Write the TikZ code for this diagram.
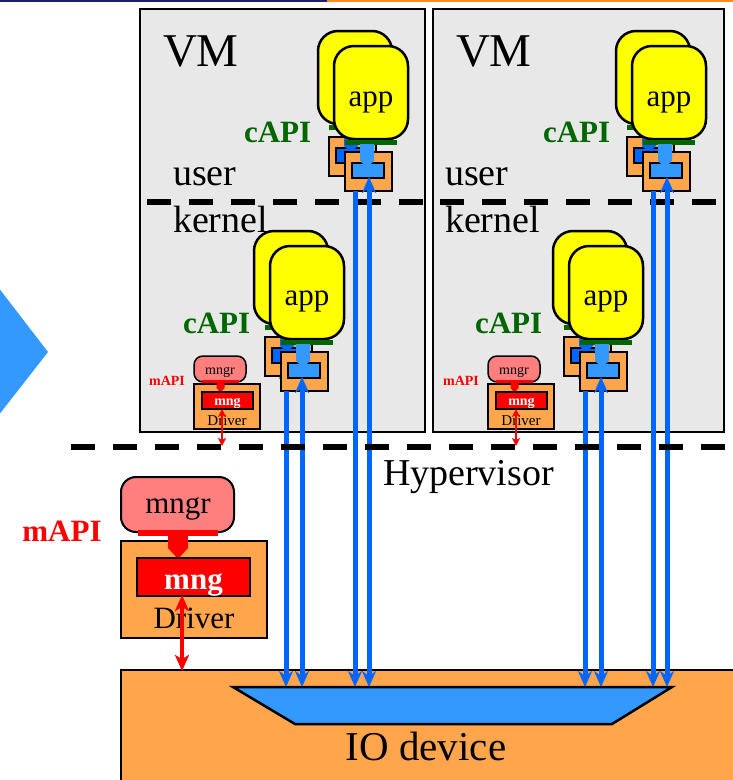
\documentclass[tikz,border=0pt]{standalone}
\usepackage{fontspec}
\setmainfont{Liberation Serif}
\usetikzlibrary{arrows.meta}
\definecolor{vmgray}{HTML}{E8E8E8}
\definecolor{appyellow}{HTML}{FFFF00}
\definecolor{boxorange}{HTML}{FFA64D}
\definecolor{lblue}{HTML}{3399FF}
\definecolor{dblue}{HTML}{0066FF}
\definecolor{capigreen}{HTML}{006600}
\definecolor{mpink}{HTML}{FF7F7F}
\definecolor{topnavy}{HTML}{1F1F6F}
\definecolor{toporange}{HTML}{FF8C1A}
\tikzset{
  plainbox/.style={rectangle,inner sep=0pt,outer sep=0pt,anchor=north west},
  vmbox/.style={plainbox,draw=black,line width=2pt,fill=vmgray},
  appbox/.style={plainbox,draw=black,line width=2.5pt,fill=appyellow,rounded corners=20pt,minimum width=74pt,minimum height=93pt},
  orbox/.style={plainbox,draw=black,line width=2.5pt,fill=boxorange},
  innerbox/.style={plainbox,draw=black,line width=2.5pt,minimum width=32pt,minimum height=15pt},
  sepdash/.style={line width=6pt,dash pattern=on 24pt off 18pt},
  txt/.style={inner sep=0pt,outer sep=0pt,text=black},
  big/.style={txt,font=\fontsize{38}{38}\selectfont},
  vmfont/.style={txt,font=\fontsize{47}{47}\selectfont},
  mid/.style={txt,font=\fontsize{31}{31}\selectfont},
  capi/.style={txt,font=\fontsize{31}{31}\selectfont\bfseries,text=capigreen},
  small/.style={txt,font=\fontsize{14}{14}\selectfont},
  blueline/.style={draw=dblue,line width=5pt},
  btip/.style={-{Stealth[length=16pt,width=14pt,inset=5pt]}},
  bboth/.style={{Stealth[length=16pt,width=14pt,inset=5pt]}-{Stealth[length=16pt,width=14pt,inset=5pt]}},
  redboth/.style={draw=red,line width=4pt,{Stealth[length=16pt,width=14pt,inset=4pt]}-{Stealth[length=16pt,width=14pt,inset=4pt]}},
  redsmall/.style={draw=red,line width=2.5pt,{Stealth[length=8pt,width=8pt,inset=2pt]}-{Stealth[length=8pt,width=8pt,inset=2pt]}},
}
% one application unit (app box, cAPI bar, driver box, inner box, wide arrow)
\newcommand\appunit[6]{%
  \begin{scope}[shift={(#2,#3)}]
    \node[appbox] (#1app) at (0,0) {};
    \node[mid,anchor=base] (#1lab) at (37,#6) {app};
    \fill[capigreen] (11,94) rectangle (63,99);
    \node[orbox,minimum width=47pt,minimum height=39pt] (#1drv) at (11,106) {};
    \node[innerbox,fill=#4] (#1in) at (18,117) {};
    \fill[#5] (26,98) -- (40,98) -- (40,115) -- (33,121) -- (26,115) -- cycle;
  \end{scope}}
% small manager + driver inside a VM
\newcommand\mgmtunit[2]{%
  \begin{scope}[shift={(#2,0)}]
    \node[plainbox,draw=black,line width=1.5pt,fill=mpink,rounded corners=9pt,minimum width=52pt,minimum height=26pt] (#1mngr) at (194,356) {};
    \node[small,anchor=base] (#1mngrt) at (220,374) {mngr};
    \fill[red] (202,379.5) rectangle (239,383);
    \node[plainbox,draw=black,line width=1.5pt,fill=boxorange,minimum width=66pt,minimum height=45pt] (#1drv) at (194,384) {};
    \fill[red] (216.5,383) -- (224.5,383) -- (224.5,388) -- (220.5,392.5) -- (216.5,388) -- cycle;
    \node[plainbox,draw=black,line width=1.5pt,fill=red,minimum width=51pt,minimum height=17pt] (#1mng) at (202,392) {};
    \node[small,anchor=base,text=white,font=\fontsize{14}{14}\selectfont\bfseries] (#1mngt) at (227.5,405) {mng};
    \node[small,anchor=base,font=\fontsize{15}{15}\selectfont] (#1drvt) at (227,425) {Driver};
    \node[small,anchor=base,text=red,font=\fontsize{14}{14}\selectfont\bfseries] (#1mapi) at (167,385) {mAPI};
    \coordinate (#1ra) at (222,409);
    \coordinate (#1rb) at (222,446);
    \draw[redsmall] (#1ra) -- (#1rb);
  \end{scope}}
\begin{document}
\begin{tikzpicture}[x=1pt,y=-1pt]
\useasboundingbox (0,0) rectangle (733,780);
\clip (0,0) rectangle (733,780);
% top rule and left arrow shape
\fill[topnavy] (0,0) rectangle (327,2);
\fill[toporange] (327,0) rectangle (733,2);
\fill[lblue] (-2,287) -- (48,352) -- (-2,416) -- cycle;

% VM boxes
\node[vmbox,minimum width=285pt,minimum height=423pt] (vmL) at (140,9) {};
\node[vmbox,minimum width=291pt,minimum height=423pt] (vmR) at (433,9) {};

% user / kernel separators
\coordinate (ukLa) at (147,202); \coordinate (ukLb) at (423,202);
\coordinate (ukRa) at (440,202); \coordinate (ukRb) at (716,202);
\draw[sepdash] (ukLa) -- (ukLb);
\draw[sepdash] (ukRa) -- (ukRb);

% VM texts
\node[vmfont,anchor=base west] (vmLt) at (163,66) {VM};
\node[vmfont,anchor=base west] (vmRt) at (456,66) {VM};
\node[big,anchor=base west] (userL) at (173,185) {user};
\node[big,anchor=base west] (userR) at (445,185) {user};
\node[big,anchor=base west] (kernL) at (173,232) {kernel};
\node[big,anchor=base west] (kernR) at (445,232) {kernel};
\node[capi,anchor=base west] (capiUL) at (244,142) {cAPI};
\node[capi,anchor=base west] (capiUR) at (543,142) {cAPI};
\node[capi,anchor=base west] (capiKL) at (183,333) {cAPI};
\node[capi,anchor=base west] (capiKR) at (475,333) {cAPI};

% back arrows (mostly hidden) and application stacks
\coordinate (ulbA) at (353,191); \coordinate (ulbB) at (353,162);
\coordinate (urbA) at (651,191); \coordinate (urbB) at (651,162);
\coordinate (klbA) at (286,391); \coordinate (klbB) at (286,363);
\coordinate (krbA) at (585,391); \coordinate (krbB) at (585,363);

\appunit{ulback}{318}{31}{dblue}{dblue}{60}
\draw[blueline,btip] (ulbA) -- (ulbB);
\appunit{ul}{334}{46}{lblue}{lblue}{60}
\appunit{urback}{616}{31}{dblue}{dblue}{60}
\draw[blueline,btip] (urbA) -- (urbB);
\appunit{ur}{632}{46}{lblue}{lblue}{60}
\appunit{klback}{254}{231}{dblue}{dblue}{59}
\draw[blueline,btip] (klbA) -- (klbB);
\appunit{kl}{270}{246}{lblue}{lblue}{59}
\appunit{krback}{553}{231}{dblue}{dblue}{59}
\draw[blueline,btip] (krbA) -- (krbB);
\appunit{kr}{569}{246}{lblue}{lblue}{59}

% in-VM managers
\mgmtunit{mL}{0}
\mgmtunit{mR}{294}

% IO device
\node[plainbox,draw=black,line width=2.5pt,fill=boxorange,minimum width=640pt,minimum height=140pt] (io) at (121,670) {};
\coordinate (tzA) at (233,687); \coordinate (tzB) at (672,687);
\coordinate (tzC) at (612,724); \coordinate (tzD) at (295,724);
\draw[line width=2.5pt,fill=lblue,line join=miter] (tzA) -- (tzB) -- (tzC) -- (tzD) -- cycle;
\node[txt,font=\fontsize{41}{41}\selectfont,anchor=base] (iot) at (426,760) {IO device};

% hypervisor-level manager
\node[plainbox,draw=black,line width=2pt,fill=mpink,rounded corners=15pt,minimum width=113pt,minimum height=55pt] (bmngr) at (121,477) {};
\node[mid,anchor=base] (bmngrt) at (178,513) {mngr};
\fill[red] (138,530) rectangle (218,535.5);
\node[plainbox,draw=black,line width=2pt,fill=boxorange,minimum width=146pt,minimum height=97pt] (bdrv) at (121,541) {};
\fill[red] (168,535) -- (188,535) -- (188,548) -- (178,559) -- (168,548) -- cycle;
\node[plainbox,draw=black,line width=2.5pt,fill=red,minimum width=113pt,minimum height=38pt] (bmng) at (137,558) {};
\node[mid,anchor=base,text=white,font=\fontsize{31}{31}\selectfont\bfseries] (bmngt) at (193.5,589) {mng};
\node[mid,anchor=base] (bdrvt) at (194,628) {Driver};
\node[capi,anchor=base,text=red] (bmapi) at (62,541) {mAPI};
\coordinate (bra) at (182,595);
\coordinate (brb) at (182,671);
\draw[redboth] (bra) -- (brb);

% blue data paths
\coordinate (ulA1) at (355,191); \coordinate (ulA2) at (355,687);
\coordinate (ulB1) at (369,177); \coordinate (ulB2) at (369,687);
\coordinate (urA1) at (653,191); \coordinate (urA2) at (653,687);
\coordinate (urB1) at (667,177); \coordinate (urB2) at (667,687);
\coordinate (klA1) at (286,391); \coordinate (klA2) at (286,687);
\coordinate (klB1) at (302,377); \coordinate (klB2) at (302,687);
\coordinate (krA1) at (585,391); \coordinate (krA2) at (585,687);
\coordinate (krB1) at (601,377); \coordinate (krB2) at (601,687);
\draw[blueline,btip] (ulA1) -- (ulA2);
\draw[blueline,bboth] (ulB1) -- (ulB2);
\draw[blueline,btip] (urA1) -- (urA2);
\draw[blueline,bboth] (urB1) -- (urB2);
\draw[blueline,btip] (klA1) -- (klA2);
\draw[blueline,bboth] (klB1) -- (klB2);
\draw[blueline,btip] (krA1) -- (krA2);
\draw[blueline,bboth] (krB1) -- (krB2);

% hypervisor separator
\coordinate (hvA) at (71,447); \coordinate (hvB) at (745,447);
\draw[sepdash] (hvA) -- (hvB);
\node[big,anchor=base west] (hvt) at (383,485) {Hypervisor};
\end{tikzpicture}
\end{document}
